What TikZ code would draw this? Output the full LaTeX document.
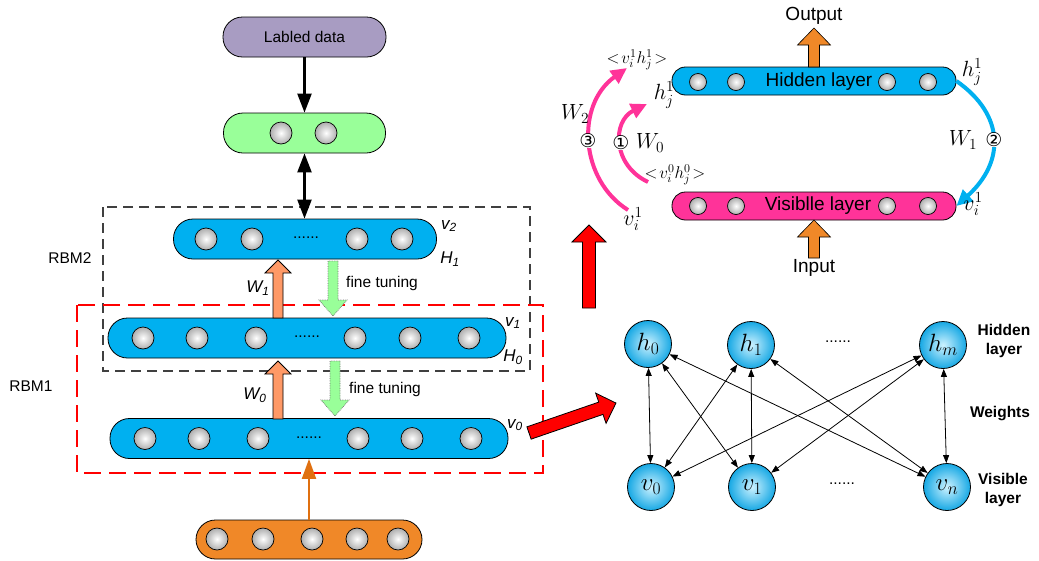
\RequirePackage{fix-cm}
\documentclass[tikz,border=0pt]{standalone}
\usepackage{fontspec}
\setmainfont{Liberation Sans}
\newfontfamily\circfont{DejaVu Sans}
\usetikzlibrary{arrows.meta,calc}
\definecolor{pillblue}{RGB}{0,176,240}
\definecolor{pillgreen}{RGB}{153,255,153}
\definecolor{pillpurple}{RGB}{168,156,194}
\definecolor{pillorange}{RGB}{240,136,40}
\definecolor{salmon}{RGB}{255,153,102}
\definecolor{pinkc}{RGB}{255,51,153}
\definecolor{darkorange}{RGB}{224,112,16}
\definecolor{cyanin}{RGB}{205,242,255}
\definecolor{cyanout}{RGB}{22,168,228}
\newcommand\blockarr[8]{%
  \begin{scope}[shift={(#1,#2)},rotate=#3]
    \path[#8] (0,-#5) -- ({#4-#7},-#5) -- ({#4-#7},-#6) -- (#4,0) -- ({#4-#7},#6) -- ({#4-#7},#5) -- (0,#5) -- cycle;
  \end{scope}}
\begin{document}
\begin{tikzpicture}[x=1pt,y=-1pt,
  pillL/.style={draw=black,line width=0.8pt,rounded corners=19.5pt,minimum height=40pt,inner sep=0pt},
  pillS/.style={draw=black,line width=0.8pt,rounded corners=13.5pt,minimum height=28pt,inner sep=0pt},
  ball/.style={circle,draw=black,line width=0.7pt,inner sep=0pt,minimum size=22pt,inner color=white,outer color=black!32},
  sball/.style={ball,minimum size=17pt},
  gnode/.style={circle,draw=black,line width=0.8pt,inner sep=0pt,minimum size=47pt,inner color=cyanin,outer color=cyanout,font=\fontsize{25}{28}\selectfont},
  txt/.style={font=\fontsize{15.5}{18}\selectfont,inner sep=0pt},
  btxt/.style={font=\fontsize{15.5}{19}\selectfont\bfseries,inner sep=0pt,align=center},
  big/.style={font=\fontsize{19}{22}\selectfont,inner sep=0pt},
  itl/.style={font=\fontsize{17}{20}\selectfont\itshape,inner sep=0pt},
  mlab/.style={font=\fontsize{22}{26}\selectfont,inner sep=0pt},
  vhlab/.style={font=\fontsize{17}{20}\selectfont,inner sep=0pt},
  circ/.style={font=\circfont\fontsize{19}{22}\selectfont,fill=white,inner sep=0.3pt},
  blk/.style={line width=2.3pt,-{Triangle[length=19pt,width=14pt]}},
  blk2/.style={line width=2.3pt,{Triangle[length=19pt,width=14pt]}-{Triangle[length=19pt,width=14pt]}},
  gedge/.style={line width=0.8pt,{Triangle[length=8pt,width=6pt]}-{Triangle[length=8pt,width=6pt]}},
  curvearr/.style={line width=4pt,-{Triangle[length=16pt,width=15pt]}},
  warr/.style={fill=salmon,draw=black,line width=0.8pt},
  farr/.style={fill=pillgreen,draw=black!55,densely dotted,line width=0.7pt},
  oarr/.style={fill=pillorange,draw=black,line width=0.6pt},
  rarr/.style={fill=red,draw=black,line width=0.8pt}
]
\useasboundingbox (0,0) rectangle (1039,560);

% ---------- boxes ----------
\draw[black!75,line width=1.3pt,dash pattern=on 10pt off 6pt] (103,207) rectangle (530,371);
\draw[red,line width=2.2pt,dash pattern=on 17pt off 8pt] (77,305) rectangle (543,473);
\node[txt] (rbm2) at (70,258) {RBM2};
\node[txt] (rbm1) at (31,386) {RBM1};

% ---------- left stack ----------
\node[pillL,fill=pillpurple,minimum width=163pt,font=\fontsize{15.5}{18}\selectfont] (lab) at (304.5,37) {Labled data};
\node[pillL,fill=pillgreen,minimum width=162pt] (gr) at (304.5,133) {};
\node[ball] (g1) at (281,133) {};
\node[ball] (g2) at (326,133) {};

\node[pillL,fill=pillblue,minimum width=263pt] (p2) at (305,239) {};
\foreach \x [count=\i] in {206,252,357,402} \node[ball] (b2\i) at (\x,239) {};
\node[txt] (d2) at (306,238) {......};

\node[pillL,fill=pillblue,minimum width=398pt] (p1) at (307,338) {};
\foreach \x [count=\i] in {143,197,256,355,410,469} \node[ball] (b1\i) at (\x,338) {};
\node[txt] (d1) at (307,337) {......};

\node[pillL,fill=pillblue,minimum width=398pt] (p0) at (309,438.5) {};
\foreach \x [count=\i] in {145,199,258,358,412,471} \node[ball] (b0\i) at (\x,438.5) {};
\node[txt] (d0) at (309,437.5) {......};

\node[pillL,fill=pillorange,minimum width=226pt,minimum height=39pt] (inp) at (309,539.5) {};
\foreach \x [count=\i] in {217,263,312,357,398} \node[ball] (bi\i) at (\x,539) {};

\draw[blk] (lab.south) -- (gr.north);
\draw[blk2] (gr.south) -- (gr.south |- p2.north);
\draw[darkorange,line width=2pt,-{Triangle[length=20pt,width=14pt]}] (inp.north) -- (p0.south);

\node[itl] (lv2) at (449,226) {v\textsubscript{2}};
\node[itl] (lh1) at (450,259) {H\textsubscript{1}};
\node[itl] (lv1) at (513,323) {v\textsubscript{1}};
\node[itl] (lh0) at (513,357) {H\textsubscript{0}};
\node[itl] (lv0) at (515,425) {v\textsubscript{0}};
\node[itl] (lw1) at (258,288) {W\textsubscript{1}};
\node[itl] (lw0) at (255,395) {W\textsubscript{0}};

\blockarr{278}{318}{90}{58}{5}{13}{13}{warr}
\blockarr{278}{419}{90}{58}{5}{13}{13}{warr}
\blockarr{333}{261}{-90}{55}{5}{14}{16}{farr}
\blockarr{335}{361}{-90}{55}{5}{14}{16}{farr}
\node[txt] (ft1) at (382,283) {fine tuning};
\node[txt] (ft0) at (385,389) {fine tuning};

% ---------- red arrows ----------
\blockarr{589}{308}{90}{83}{6.5}{17}{17}{rarr}
\blockarr{529}{433}{19}{92}{6.5}{16}{16}{rarr}

% ---------- top right ----------
\node[pillS,fill=pillblue,minimum width=284pt] (hid) at (814,81) {};
\node[pillS,fill=pinkc,minimum width=284pt] (vis) at (814,206) {};
\foreach \x [count=\i] in {698,736,887,928} {
  \node[sball] (hb\i) at (\x,82) {};
  \node[sball] (vb\i) at (\x,206) {};
}
\node[big] (hidt) at (819,82) {Hidden layer};
\node[big] (vist) at (818,206) {Visiblle layer};
\blockarr{814}{67}{90}{39}{5.5}{16.5}{17}{oarr}
\blockarr{814}{258}{90}{38}{5.5}{16.5}{17}{oarr}
\node[big] (outt) at (814,16) {Output};
\node[big] (int) at (814,268) {Input};

\draw[pillblue,curvearr] (hid.east) .. controls (1005,115) and (1005,162) .. (vis.east);
\node[mlab] (rh) at (972,72) {$h_j^1$};
\node[mlab] (rw1) at (963,140) {$W_1$};
\node[circ] (c2) at (994,140) {②};
\node[mlab] (rv) at (973,204) {$v_i^1$};

\coordinate (c3s) at (628,210);
\coordinate (c3e) at (627,68);
\coordinate (c1s) at (648,182);
\coordinate (c1e) at (647,104);
\draw[pinkc,curvearr] (c3s) .. controls (580,180) and (575,105) .. (c3e);
\draw[pinkc,curvearr] (c1s) .. controls (612,165) and (612,121) .. (c1e);
\node[circ] (c3) at (588,141) {③};
\node[circ] (c1) at (621,143) {①};
\node[vhlab] (lvh1) at (637,60) {$<\!v_i^1h_j^1\!>$};
\node[mlab] (lw2) at (575,114) {$W_2$};
\node[mlab] (lvi) at (633,219) {$v_i^1$};
\node[mlab] (lhj) at (664,95) {$h_j^1$};
\node[mlab] (lw0r) at (650,143) {$W_0$};
\node[vhlab] (lvh0) at (675,175) {$<\!v_i^0h_j^0\!>$};

% ---------- bottom right graph ----------
\node[gnode] (h0) at (648,344) {$h_0$};
\node[gnode] (h1) at (751,345) {$h_1$};
\node[gnode] (hm) at (943,345) {$h_m$};
\node[gnode] (v0) at (651,487) {$v_0$};
\node[gnode] (v1) at (752,487) {$v_1$};
\node[gnode] (vn) at (947,487) {$v_n$};
\foreach \a in {h0,h1,hm} \foreach \b in {v0,v1,vn} \draw[gedge] (\a) -- (\b);
\node[txt] (gd1) at (838,342) {......};
\node[txt] (gd2) at (842,484) {......};
\node[btxt] (ghl) at (1004,341) {Hidden\\layer};
\node[btxt] (gw) at (1000,414) {Weights};
\node[btxt] (gvl) at (1003,490) {Visible\\layer};
\end{tikzpicture}
\end{document}
